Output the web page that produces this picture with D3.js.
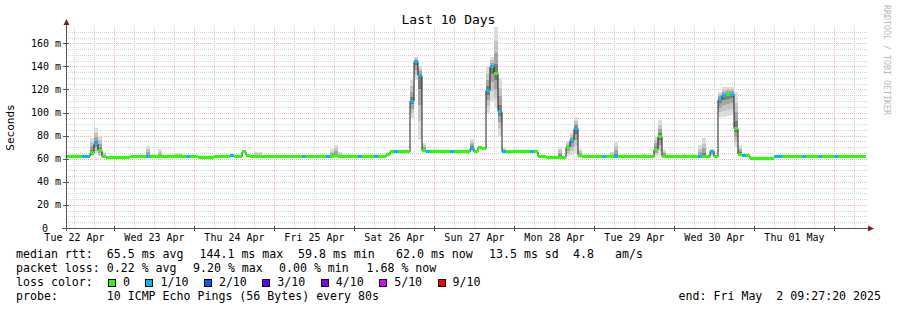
<!DOCTYPE html>
<meta charset="utf-8">
<style>
body { margin: 0; background: #fff; }
svg { display: block; font-family: "DejaVu Sans Mono", monospace; }
.grid line { shape-rendering: crispEdges; stroke-dasharray: 1,1; }
.legend text { font-size: 11.6px; white-space: pre; fill: #000; }
.tick-label { font-size: 10px; fill: #000; }
</style>
<body>
<div id="chart"></div>
<script src="https://cdn.jsdelivr.net/npm/d3@7"></script>
<script>
// 10 days, one bin every 72 minutes (200 bins)
var startTime = new Date(2025, 3, 22, 9, 27, 20),
    endTime = new Date(2025, 4, 2, 9, 27, 20),
    binMinutes = 72;

// median rtt per bin (ms)
var median = [
  61.5, 61.5, 61.5, 61.5, 61.5, 62, 65, 73, 67, 61.5, 61, 61, 61, 61, 61, 61, 61.5, 61.5, 61.5, 61.5,
  61.5, 61.5, 61.5, 61.5, 61.5, 61.5, 61.5, 61.5, 61.5, 61.5, 61.5, 61.5, 61.5, 61, 61, 61, 61, 61.5, 61.5, 61.5,
  61.5, 62.5, 61.5, 61.5, 66, 63, 61.5, 61.5, 61.5, 61.5, 61.5, 61.5, 61.5, 61.5, 62, 61.5, 61.5, 61.5, 61.5, 61.5,
  61.5, 61.5, 61.5, 61.5, 61.5, 61.5, 62, 62.5, 61.5, 61.5, 61.5, 61.5, 61.5, 61.5, 61.5, 61.5, 61.5, 61.5, 61.5, 61.5,
  63.5, 66, 66, 66, 66, 66, 110, 144.1, 132, 67, 66, 66, 66, 66, 66, 66, 66, 66, 66, 66,
  66, 69, 66, 70, 68.5, 119, 139.5, 134, 101, 66, 66, 66, 66, 66, 66, 66, 66, 66, 62, 61.5,
  61, 61, 61, 61, 61, 70, 76, 86, 63, 61.5, 61.5, 61.5, 61.5, 61.5, 61.5, 61.5, 61.5, 61.5, 61.5, 61.5,
  61.5, 61.5, 61.5, 61.5, 61.5, 61.5, 61.5, 68, 79, 62, 61.5, 61.5, 61.5, 61.5, 61.5, 61.5, 61.5, 61.5, 61.5, 61.5,
  61.5, 66.5, 61.5, 111, 115, 115.5, 116, 86, 64, 63, 62.5, 60, 59.8, 60, 60.5, 60.5, 60.5, 61.5, 62, 62,
  62, 62, 62, 62, 62, 62, 62, 62, 62, 62, 62, 62, 62, 62, 62, 62, 62, 62, 62, 62
];

// bins where 1 of 10 pings was lost
var lossBins = [4, 5, 7, 20, 30, 41, 59, 65, 73, 77, 82, 86, 87, 88, 90, 96, 101, 105, 106, 108,
                109, 116, 126, 127, 134, 137, 158, 161, 163, 164, 166, 169, 177, 178, 184, 188, 192];

// smoke (spread of the pings) where it shows
var smokeBins = [6, 7, 8, 9, 20, 23, 27, 28, 47, 48, 66, 67, 68, 77, 86, 87, 88, 89, 101, 105, 106, 107, 108,
                 109, 123, 125, 126, 127, 128, 136, 137, 139, 144, 147, 148, 149, 154, 158, 159, 161,
                 163, 164, 165, 166, 167, 168];
var smokeLo = [62, 64, 62, 61, 61, 61, 61, 61, 61, 61, 61, 61, 61, 61, 95, 128, 76, 65, 66, 100, 110, 104, 80,
               65, 61, 62, 63, 65, 61, 61, 61, 61, 61, 62, 63, 61, 61, 61, 61, 62,
               96, 96, 97, 98, 70, 62];
var smokeHi = [78, 86.5, 80, 66, 71, 68, 65, 65, 66, 66, 68, 72, 66, 64, 128, 148, 140, 74, 77, 140, 148, 174, 130,
               69, 70, 75, 82, 96, 68, 66, 74.6, 64, 64, 80, 93.4, 68, 64, 72, 78, 68,
               118, 122, 122, 122, 118, 72];

var yTicks = [0, 20, 40, 60, 80, 100, 120, 140, 160];
var lossLabels = ["0", "1/10", "2/10", "3/10", "4/10", "5/10", "9/10"];
var lossColors = ["#26ff00", "#00b8ff", "#0059ff", "#5e00ff", "#7e00ff", "#dd00ff", "#ff0000"];

var W = 897, H = 310,
    plotLeft = 66, plotRight = 866, plotTop = 27, plotBottom = 228;

var svg = d3.select("#chart").append("svg").attr("width", W).attr("height", H);
svg.append("rect").attr("width", W).attr("height", H).attr("fill", "#fff");

var x = d3.scaleTime().domain([startTime, endTime]).range([plotLeft, plotRight]);
var y = d3.scaleLinear().domain([0, 174.1]).range([plotBottom, plotTop]);

function binStart(i) { return d3.timeMinute.offset(startTime, i * binMinutes); }
function lossIndex(n) { return n >= 9 ? 6 : n >= 5 ? 5 : n; }
var loss = median.map(function(d, i) { return lossBins.indexOf(i) >= 0 ? 1 : 0; });

// grid
var grid = svg.append("g").attr("class", "grid");
grid.selectAll(null).data(d3.range(5, 175, 5).filter(function(v) { return v % 20 != 0; }))
  .enter().append("line")
  .attr("x1", plotLeft).attr("x2", plotRight + 2)
  .attr("y1", function(d) { return Math.round(y(d)) + 0.5; })
  .attr("y2", function(d) { return Math.round(y(d)) + 0.5; })
  .attr("stroke", "#d2d2d2");
grid.selectAll(null).data(d3.timeHour.every(6).range(startTime, endTime))
  .enter().append("line")
  .attr("x1", function(d) { return Math.round(x(d)) + 0.5; })
  .attr("x2", function(d) { return Math.round(x(d)) + 0.5; })
  .attr("y1", plotTop).attr("y2", plotBottom)
  .attr("stroke", "#d2d2d2");
grid.selectAll(null).data(yTicks.slice(1))
  .enter().append("line")
  .attr("x1", plotLeft).attr("x2", plotRight + 2)
  .attr("y1", function(d) { return Math.round(y(d)) + 0.5; })
  .attr("y2", function(d) { return Math.round(y(d)) + 0.5; })
  .attr("stroke", "#f5b5b5");
grid.selectAll(null).data(d3.timeDay.range(startTime, endTime))
  .enter().append("line")
  .attr("x1", function(d) { return Math.round(x(d)) + 0.5; })
  .attr("x2", function(d) { return Math.round(x(d)) + 0.5; })
  .attr("y1", plotTop).attr("y2", plotBottom)
  .attr("stroke", "#f5b5b5");

// smoke, lighter the further from the median
var layers = [{f: 1, c: "#dcdcdc"}, {f: 0.7, c: "#c4c4c4"}, {f: 0.45, c: "#a4a4a4"}, {f: 0.2, c: "#7c7c7c"}];
var smoke = svg.append("g").attr("shape-rendering", "crispEdges");
layers.forEach(function(l) {
  smoke.selectAll(null).data(smokeBins).enter().append("rect")
    .attr("x", function(b) { return x(binStart(b)); })
    .attr("width", function(b) { return x(binStart(b + 1)) - x(binStart(b)); })
    .attr("y", function(b, k) { var m = median[b]; return y(m + l.f * (smokeHi[k] - m)); })
    .attr("height", function(b, k) {
      var m = median[b];
      return y(m - l.f * (m - smokeLo[k])) - y(m + l.f * (smokeHi[k] - m));
    })
    .attr("fill", l.c);
});

// median line
var pts = median.concat([median[median.length - 1]]);
svg.append("path")
  .attr("d", d3.line()
    .x(function(d, i) { return x(binStart(i)); })
    .y(function(d) { return y(d); })
    .curve(d3.curveStepAfter)(pts))
  .attr("fill", "none").attr("stroke", "#202020").attr("stroke-width", 1);

// loss-coloured median band
svg.append("g").attr("shape-rendering", "crispEdges")
  .selectAll("rect").data(median).enter().append("rect")
  .attr("x", function(d, i) { return x(binStart(i)); })
  .attr("width", function(d, i) { return x(binStart(i + 1)) - x(binStart(i)); })
  .attr("y", function(d) { return y(d) - 1.5; })
  .attr("height", 3)
  .attr("fill", function(d, i) { return lossColors[lossIndex(loss[i])]; });

// axes
var axisCol = "#555", arrowCol = "#7f1f1f";
var ax = svg.append("g").attr("shape-rendering", "crispEdges");
ax.append("line").attr("x1", plotLeft + 0.5).attr("x2", plotLeft + 0.5).attr("y1", plotBottom + 3).attr("y2", 23).attr("stroke", axisCol);
ax.append("line").attr("x1", plotLeft - 4).attr("x2", plotRight + 4).attr("y1", plotBottom + 0.5).attr("y2", plotBottom + 0.5).attr("stroke", axisCol);
ax.selectAll(null).data(yTicks).enter().append("line")
  .attr("x1", plotLeft - 3).attr("x2", plotLeft + 3)
  .attr("y1", function(d) { return Math.round(y(d)) + 0.5; })
  .attr("y2", function(d) { return Math.round(y(d)) + 0.5; })
  .attr("stroke", axisCol);
ax.selectAll(null).data(d3.timeDay.range(startTime, endTime)).enter().append("line")
  .attr("x1", function(d) { return Math.round(x(d)) + 0.5; })
  .attr("x2", function(d) { return Math.round(x(d)) + 0.5; })
  .attr("y1", plotBottom - 2).attr("y2", plotBottom + 3)
  .attr("stroke", axisCol);
svg.append("path").attr("d", "M" + (plotLeft - 2.5) + ",25 L" + (plotLeft + 0.5) + ",19 L" + (plotLeft + 3.5) + ",25 Z").attr("fill", arrowCol);
svg.append("path").attr("d", "M" + (plotRight + 2) + "," + (plotBottom - 2.5) + " L" + (plotRight + 8) + "," + (plotBottom + 0.5) + " L" + (plotRight + 2) + "," + (plotBottom + 3.5) + " Z").attr("fill", arrowCol);

// tick labels
svg.selectAll(null).data(yTicks).enter().append("text")
  .attr("class", "tick-label")
  .attr("x", function(d) { return d == 0 ? 42 : 61; })
  .attr("y", function(d) { return y(d) + 3.5; })
  .attr("text-anchor", function(d) { return d == 0 ? "start" : "end"; })
  .text(function(d) { return d == 0 ? "0" : d + " m"; });
var labelDays = d3.timeDay.range(d3.timeDay.floor(startTime), endTime)
  .filter(function(d) { return d3.timeHour.offset(d, 12) < endTime; });
svg.selectAll(null).data(labelDays).enter().append("text")
  .attr("class", "tick-label")
  .attr("x", function(d) { return x(d3.timeHour.offset(d, 12)); })
  .attr("y", 241)
  .attr("text-anchor", "middle")
  .text(function(d) { return d3.timeFormat("%a %d %b")(d); });

// title, unit, watermark
svg.append("text").attr("x", 448.5).attr("y", 24).attr("text-anchor", "middle")
  .style("font-size", "13px").text("Last 10 Days");
svg.append("text").attr("transform", "translate(14,127.5) rotate(-90)").attr("text-anchor", "middle")
  .style("font-size", "11px").text("Seconds");
svg.append("text").attr("transform", "translate(884,5) rotate(90)")
  .style("font-size", "8.3px").attr("fill", "#b8b8b8").text("RRDTOOL / TOBI OETIKER");

// legend
var lg = svg.append("g").attr("class", "legend");
var line1 = [["median rtt:  65.5 ms avg", 16], ["144.1 ms max", 199.5], ["59.8 ms min", 298], ["62.0 ms now", 396],
             ["13.5 ms sd", 489], ["4.8", 573], ["am/s", 615]];
var line2 = [["packet loss: 0.22 % avg", 16], ["9.20 % max", 193], ["0.00 % min", 279], ["1.68 % now", 366.5]];
line1.forEach(function(s) { lg.append("text").attr("x", s[1]).attr("y", 258).text(s[0]); });
line2.forEach(function(s) { lg.append("text").attr("x", s[1]).attr("y", 272).text(s[0]); });
lg.append("text").attr("x", 16).attr("y", 286).text("loss color:");
var lx = 108;
lossLabels.forEach(function(lbl, i) {
  lg.append("rect").attr("x", lx + 0.5).attr("y", 279.5).attr("width", 7).attr("height", 7)
    .attr("fill", lossColors[i]).attr("stroke", "#000").attr("shape-rendering", "crispEdges");
  var t = lg.append("text").attr("x", lx + 15).attr("y", 286).text(lbl);
  lx += 15 + t.node().getComputedTextLength() + 15.5;
});
lg.append("text").attr("x", 16).attr("y", 300).text("probe:       10 ICMP Echo Pings (56 Bytes) every 80s");
lg.append("text").attr("x", 881).attr("y", 300).attr("text-anchor", "end").text("end: Fri May  2 09:27:20 2025");
</script>
</body>
